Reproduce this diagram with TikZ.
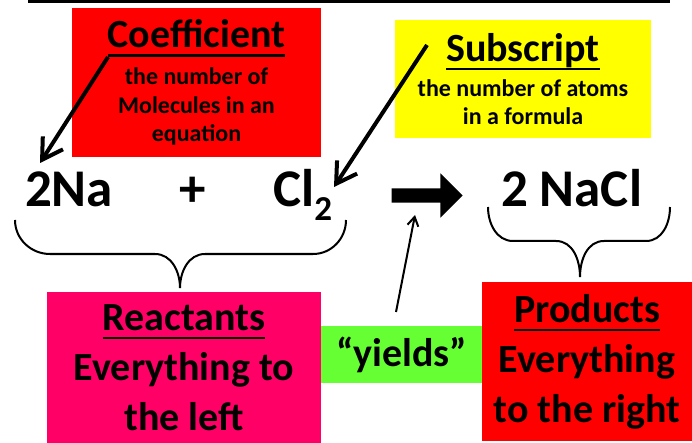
\documentclass[tikz,border=0pt]{standalone}
\usepackage{fontspec}
\setmainfont{Carlito}
\usepackage{xcolor}
\usepackage{tikz}
\usetikzlibrary{arrows.meta, positioning, shapes.arrows}

\definecolor{coefred}{HTML}{FF0000}
\definecolor{subyellow}{HTML}{FFFF00}
\definecolor{reactpink}{HTML}{FF0066}
\definecolor{yieldgreen}{HTML}{66FF33}
\definecolor{prodred}{HTML}{FF0000}

\newcommand{\titleline}[1]{\setbox0=\hbox{#1}\rlap{\rule[-9pt]{\wd0}{2.5pt}}\box0}

\begin{document}
\begin{tikzpicture}[
    x=1pt, y=-1pt,
    node distance=0pt,
    box/.style={rectangle, inner sep=0pt, outer sep=0pt, align=center, font=\bfseries\fontsize{40}{50}\selectfont},
    note/.style={box, font=\bfseries\fontsize{24}{28.5}\selectfont},
    formula/.style={inner sep=0pt, font=\bfseries\fontsize{53}{60}\selectfont},
    callout/.style={-{Straight Barb[length=20pt, width=24pt]}, line width=4pt},
    pointer/.style={-{Straight Barb[length=9pt, width=11pt]}, line width=2pt},
    curly/.style={line width=2pt}
]
    \useasboundingbox (0,0) rectangle (692,443);
    \draw[line width=3pt] (28,1.5) -- (670,1.5);

    \node[note, fill=coefred, minimum width=249pt, minimum height=149pt] (coef) at (196.5,82.5)
        {{\fontsize{40}{40}\selectfont\titleline{Coefficient}}\\[8.5pt]the number of\\Molecules in an\\equation};
    \node[note, fill=subyellow, minimum width=256pt, minimum height=118pt] (subs) at (523,79)
        {{\fontsize{40}{40}\selectfont\titleline{Subscript}}\\[6.5pt]the number of atoms\\in a formula};

    \node[formula, anchor=base] (na) at (69,207) {2Na};
    \node[formula, anchor=base] (plus) at (193,207) {+};
    \node[formula, anchor=base west] (cl) at (273,207) {Cl\lower14pt\hbox{\fontsize{35}{35}\selectfont 2}};
    \node[single arrow, fill=black, inner xsep=0pt, inner ysep=7pt, single arrow head extend=15pt,
        minimum height=71pt] (yieldarrow) at (423.5,195.5) {};
    \node[formula, anchor=base] (nacl) at (571.5,207) {2 NaCl};

    \node[box, fill=reactpink, minimum width=274pt, minimum height=151pt] (react) at (184,367.5)
        {\titleline{Reactants}\\Everything to\\the left};
    \node[box, fill=yieldgreen, minimum width=161pt, minimum height=57pt, right=of react, yshift=13pt] (yields)
        {“yields”};
    \node[box, fill=prodred, minimum width=210pt, minimum height=159pt, right=of yields, yshift=-7pt] (prod)
        {\titleline{Products}\\Everything\\to the right};

    \draw[curly] (15,220) to[out=-90, in=180] (50,254) -- (155,254) to[out=0, in=90] (180,288)
        to[out=90, in=180] (205,254) -- (313,254) to[out=0, in=-90] (346,220);
    \draw[curly] (488,207) to[out=-90, in=180] (513,241) -- (556,241) to[out=0, in=90] (580,277)
        to[out=90, in=180] (604,241) -- (646,241) to[out=0, in=-90] (670,207);

    \coordinate (coeftail) at (108,57);
    \coordinate (coeftip) at (40,163);
    \coordinate (substail) at (427,45);
    \coordinate (substip) at (334,187);
    \coordinate (yieldtail) at (396,312);
    \coordinate (yieldtip) at (415,215);

    \draw[callout] (coeftail) -- (coeftip);
    \draw[callout] (substail) -- (substip);
    \draw[pointer] (yieldtail) -- (yieldtip);
\end{tikzpicture}
\end{document}
